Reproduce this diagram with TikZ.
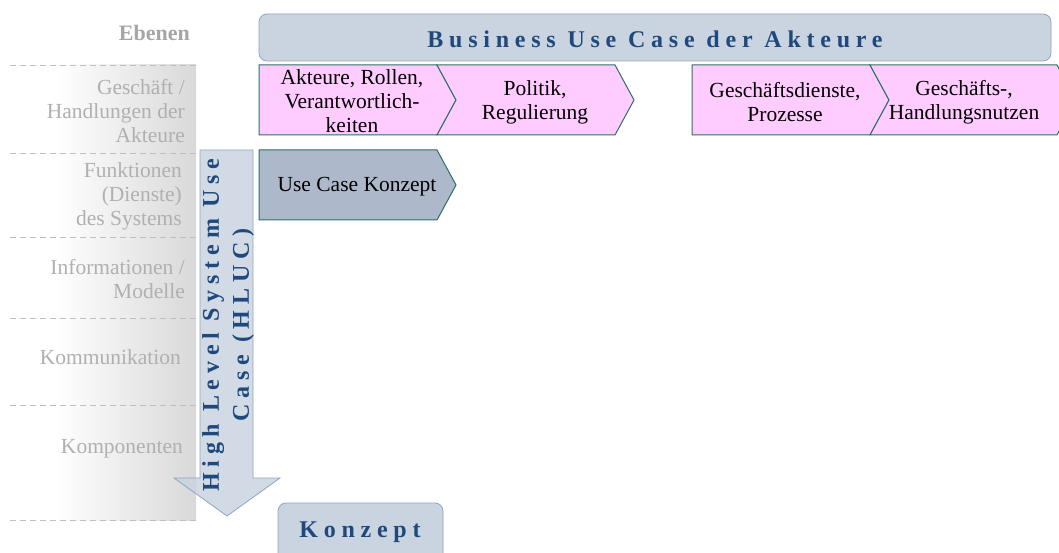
\documentclass[tikz,border=0pt]{standalone}
\usepackage{fontspec}
\setmainfont{Liberation Serif}
\newfontfamily\spc[LetterSpace=24]{Liberation Serif}
\definecolor{bannfill}{HTML}{C9D4E0}
\definecolor{bannline}{HTML}{8EA5C0}
\definecolor{navy}{HTML}{1F497D}
\definecolor{pink}{HTML}{FFCCFF}
\definecolor{teal}{HTML}{2E6F62}
\definecolor{boxgray}{HTML}{ADB9CA}
\definecolor{labgray}{HTML}{B0B0B0}
\definecolor{hdgray}{HTML}{A6A6A6}
\tikzset{
  bann/.style={draw=bannline, fill=bannfill, line width=0.8pt},
  chev/.style={draw=teal, fill=pink, line width=1pt},
  chevgray/.style={draw=teal, fill=boxgray, line width=1pt},
  txt/.style={font=\fontsize{21.5}{24}\selectfont, align=center, inner sep=0pt},
  lab/.style={font=\fontsize{21.5}{24}\selectfont, text=labgray, align=right, anchor=east, inner sep=0pt},
  big/.style={font=\fontsize{24}{30}\selectfont\spc\bfseries, text=navy, align=center, inner sep=0pt},
  level/.style={dashed, dash pattern=on 6pt off 4pt, draw=gray!50, line width=0.8pt},
}
\begin{document}
\begin{tikzpicture}[x=1pt,y=-1pt]
\useasboundingbox (0,0) rectangle (1059,553);
% gradient column
\shade[left color=white,right color=gray!30] (55,65) rectangle (196,520);
\foreach \y in {65,153,237,318,405,520} \draw[level] (10,\y) -- (196,\y);
\node[font=\fontsize{22}{26}\selectfont\bfseries, text=hdgray, anchor=east, inner sep=0pt] (ebenen) at (190,33) {Ebenen};
\node[lab] (l1) at (185,111) {Geschäft /\\Handlungen der\\Akteure};
\node[lab] (l2) at (182,196) {Funktionen\\(Dienste)\\des Systems};
\node[lab] (l3) at (185,279) {Informationen /\\Modelle};
\node[lab] (l4) at (181,357) {Kommunikation};
\node[lab] (l5) at (183,449) {Komponenten};
% banner
\draw[bann, rounded corners=8pt] (259,14) rectangle (1051,61);
\node[big] (banner) at (655,39) {Business Use Case der Akteure};
% chevrons
\draw[chev] (259,65) -- (437,65) -- (456,100) -- (437,135) -- (259,135) -- cycle;
\draw[chev] (437,65) -- (615,65) -- (634,100) -- (615,135) -- (437,135) -- (456,100) -- cycle;
\draw[chev] (692,65) -- (870,65) -- (889,100) -- (870,135) -- (692,135) -- cycle;
\draw[chev] (870,65) -- (1057,65) -- (1076,100) -- (1057,135) -- (870,135) -- (889,100) -- cycle;
\node[txt] (c1) at (352,101.5) {Akteure, Rollen,\\Verantwortlich-\\keiten};
\node[txt] (c2) at (535,102) {Politik,\\Regulierung};
\node[txt] (c3) at (785,102) {Geschäftsdienste,\\Prozesse};
\node[txt] (c4) at (964,102) {Geschäfts-,\\Handlungsnutzen};
% use case konzept
\draw[chevgray] (259,150) -- (437,150) -- (456,185) -- (437,220) -- (259,220) -- cycle;
\node[txt] (uck) at (357,187) {Use Case Konzept};
% vertical arrow
\draw[draw=bannline, fill=bannfill, fill opacity=0.85, line width=0.8pt]
  (200,150) -- (253,150) -- (253,478) -- (280,478) -- (227,516) -- (174,478) -- (200,478) -- cycle;
\node[big, rotate=90] (hluc) at (228,325) {High Level System Use\\Case (HLUC)};
% konzept
\draw[bann, rounded corners=8pt] (278,503) rectangle (443,575);
\node[big] (konzept) at (360,532) {Konzept};
\end{tikzpicture}
\end{document}
